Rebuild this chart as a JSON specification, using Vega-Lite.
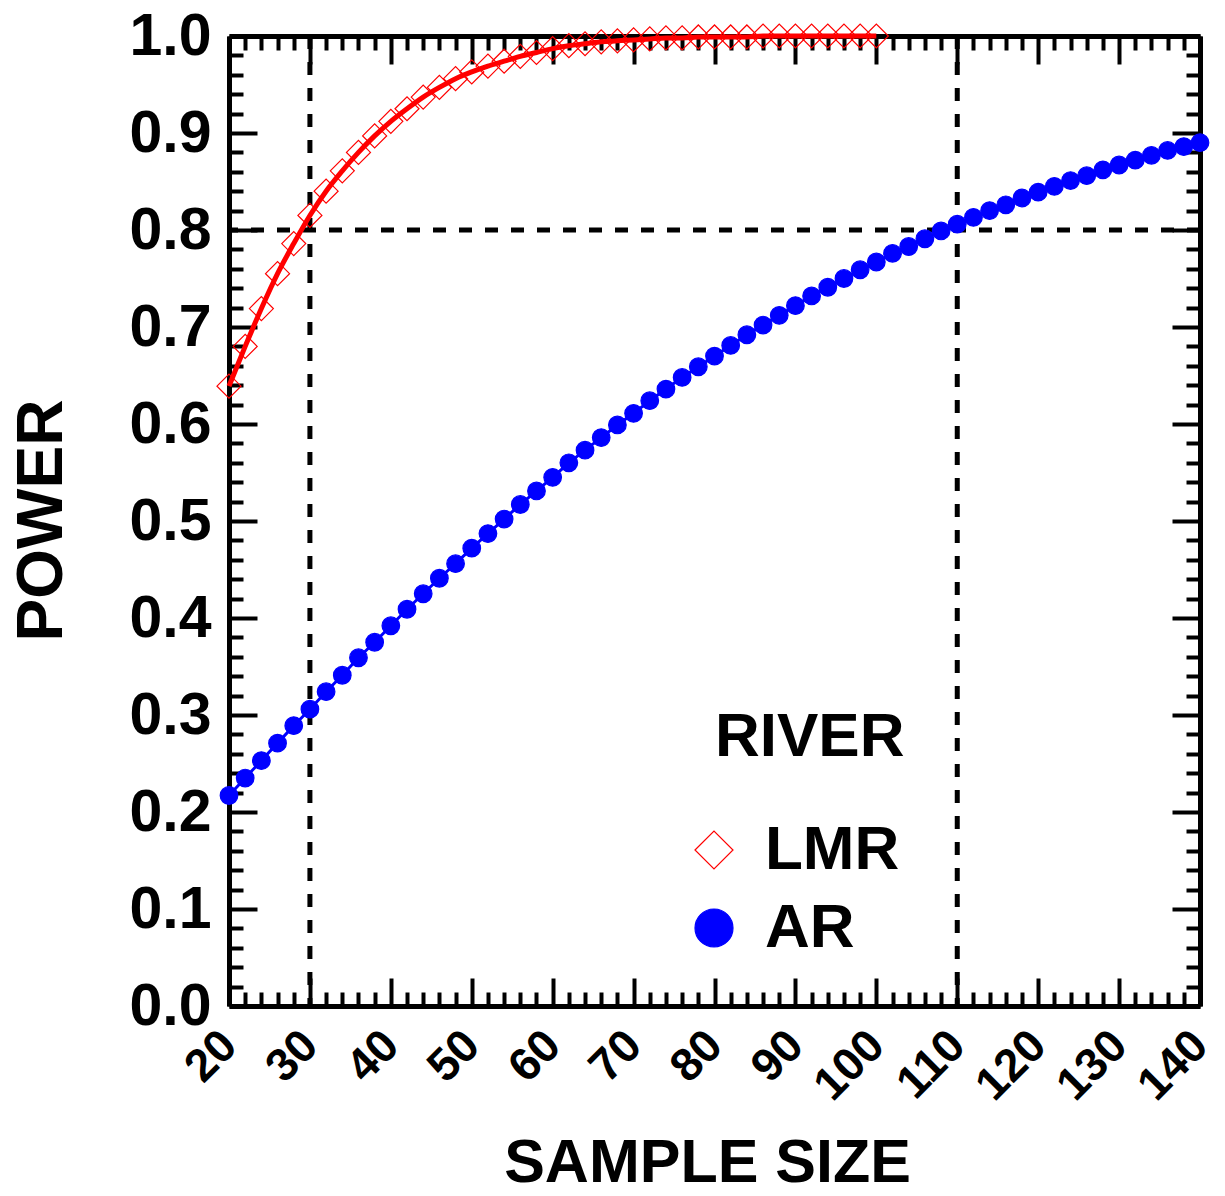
{
  "$schema": "https://vega.github.io/schema/vega-lite/v6.json",
  "autosize": {"type": "none"},
  "padding": {"left": 229, "top": 36, "right": 25, "bottom": 190},
  "width": 971,
  "height": 970,
  "background": "white",
  "config": {
    "view": {"stroke": null},
    "font": "Liberation Sans",
    "axis": {"labelFont": "Liberation Sans", "titleFont": "Liberation Sans", "labelFontWeight": "bold", "titleFontWeight": "bold", "labelColor": "black", "titleColor": "black", "domainColor": "black", "tickColor": "black", "grid": false, "labelFlush": false, "labelOverlap": false}
  },
  "datasets": {
    "power": [
      {"river": "LMR", "n": 20, "power": 0.639}, {"river": "LMR", "n": 22, "power": 0.680}, {"river": "LMR", "n": 24, "power": 0.719},
      {"river": "LMR", "n": 26, "power": 0.755}, {"river": "LMR", "n": 28, "power": 0.786}, {"river": "LMR", "n": 30, "power": 0.815},
      {"river": "LMR", "n": 32, "power": 0.840}, {"river": "LMR", "n": 34, "power": 0.861}, {"river": "LMR", "n": 36, "power": 0.880},
      {"river": "LMR", "n": 38, "power": 0.897}, {"river": "LMR", "n": 40, "power": 0.912}, {"river": "LMR", "n": 42, "power": 0.925},
      {"river": "LMR", "n": 44, "power": 0.937}, {"river": "LMR", "n": 46, "power": 0.947}, {"river": "LMR", "n": 48, "power": 0.956},
      {"river": "LMR", "n": 50, "power": 0.963}, {"river": "LMR", "n": 52, "power": 0.969}, {"river": "LMR", "n": 54, "power": 0.974},
      {"river": "LMR", "n": 56, "power": 0.979}, {"river": "LMR", "n": 58, "power": 0.983}, {"river": "LMR", "n": 60, "power": 0.987},
      {"river": "LMR", "n": 62, "power": 0.990}, {"river": "LMR", "n": 64, "power": 0.992}, {"river": "LMR", "n": 66, "power": 0.994},
      {"river": "LMR", "n": 68, "power": 0.995}, {"river": "LMR", "n": 70, "power": 0.996}, {"river": "LMR", "n": 72, "power": 0.997},
      {"river": "LMR", "n": 74, "power": 0.998}, {"river": "LMR", "n": 76, "power": 0.998}, {"river": "LMR", "n": 78, "power": 0.999},
      {"river": "LMR", "n": 80, "power": 0.999}, {"river": "LMR", "n": 82, "power": 0.999}, {"river": "LMR", "n": 84, "power": 0.999},
      {"river": "LMR", "n": 86, "power": 1.0}, {"river": "LMR", "n": 88, "power": 1.0}, {"river": "LMR", "n": 90, "power": 1.0},
      {"river": "LMR", "n": 92, "power": 1.0}, {"river": "LMR", "n": 94, "power": 1.0}, {"river": "LMR", "n": 96, "power": 1.0},
      {"river": "LMR", "n": 98, "power": 1.0}, {"river": "LMR", "n": 100, "power": 1.0},
      {"river": "AR", "n": 20, "power": 0.217}, {"river": "AR", "n": 22, "power": 0.235}, {"river": "AR", "n": 24, "power": 0.253},
      {"river": "AR", "n": 26, "power": 0.271}, {"river": "AR", "n": 28, "power": 0.289}, {"river": "AR", "n": 30, "power": 0.306},
      {"river": "AR", "n": 32, "power": 0.324}, {"river": "AR", "n": 34, "power": 0.341}, {"river": "AR", "n": 36, "power": 0.359},
      {"river": "AR", "n": 38, "power": 0.375}, {"river": "AR", "n": 40, "power": 0.392}, {"river": "AR", "n": 42, "power": 0.409},
      {"river": "AR", "n": 44, "power": 0.425}, {"river": "AR", "n": 46, "power": 0.441}, {"river": "AR", "n": 48, "power": 0.456},
      {"river": "AR", "n": 50, "power": 0.472}, {"river": "AR", "n": 52, "power": 0.487}, {"river": "AR", "n": 54, "power": 0.502},
      {"river": "AR", "n": 56, "power": 0.517}, {"river": "AR", "n": 58, "power": 0.531}, {"river": "AR", "n": 60, "power": 0.545},
      {"river": "AR", "n": 62, "power": 0.560}, {"river": "AR", "n": 64, "power": 0.573}, {"river": "AR", "n": 66, "power": 0.586},
      {"river": "AR", "n": 68, "power": 0.599}, {"river": "AR", "n": 70, "power": 0.611}, {"river": "AR", "n": 72, "power": 0.624},
      {"river": "AR", "n": 74, "power": 0.636}, {"river": "AR", "n": 76, "power": 0.648}, {"river": "AR", "n": 78, "power": 0.659},
      {"river": "AR", "n": 80, "power": 0.670}, {"river": "AR", "n": 82, "power": 0.681}, {"river": "AR", "n": 84, "power": 0.692},
      {"river": "AR", "n": 86, "power": 0.702}, {"river": "AR", "n": 88, "power": 0.712}, {"river": "AR", "n": 90, "power": 0.722},
      {"river": "AR", "n": 92, "power": 0.732}, {"river": "AR", "n": 94, "power": 0.741}, {"river": "AR", "n": 96, "power": 0.750},
      {"river": "AR", "n": 98, "power": 0.759}, {"river": "AR", "n": 100, "power": 0.767}, {"river": "AR", "n": 102, "power": 0.776},
      {"river": "AR", "n": 104, "power": 0.783}, {"river": "AR", "n": 106, "power": 0.791}, {"river": "AR", "n": 108, "power": 0.799},
      {"river": "AR", "n": 110, "power": 0.806}, {"river": "AR", "n": 112, "power": 0.813}, {"river": "AR", "n": 114, "power": 0.820},
      {"river": "AR", "n": 116, "power": 0.826}, {"river": "AR", "n": 118, "power": 0.833}, {"river": "AR", "n": 120, "power": 0.839},
      {"river": "AR", "n": 122, "power": 0.845}, {"river": "AR", "n": 124, "power": 0.851}, {"river": "AR", "n": 126, "power": 0.856},
      {"river": "AR", "n": 128, "power": 0.862}, {"river": "AR", "n": 130, "power": 0.867}, {"river": "AR", "n": 132, "power": 0.872},
      {"river": "AR", "n": 134, "power": 0.877}, {"river": "AR", "n": 136, "power": 0.882}, {"river": "AR", "n": 138, "power": 0.886},
      {"river": "AR", "n": 140, "power": 0.890}
    ],
    "vlines": [{"n": 30}, {"n": 110}],
    "hlines": [{"power": 0.8}]
  },
  "resolve": {"axis": {"x": "independent", "y": "independent"}},
  "layer": [
    {
      "data": {"name": "vlines"},
      "mark": {"type": "rule", "color": "black", "strokeWidth": 5, "strokeDash": [13, 13]},
      "encoding": {
        "x": {"field": "n", "type": "quantitative", "scale": {"domain": [20, 140], "nice": false, "zero": false},
          "axis": {"orient": "bottom", "values": [20, 30, 40, 50, 60, 70, 80, 90, 100, 110, 120, 130, 140], "ticks": false, "domain": false,
            "labelAngle": -45, "labelAlign": "right", "labelBaseline": "middle", "labelPadding": 32, "labelFontSize": 46,
            "title": "SAMPLE SIZE", "titleFontSize": 61, "titleX": 478, "titleAlign": "center", "titleY": 175, "titleBaseline": "alphabetic"}}
      }
    },
    {
      "data": {"name": "hlines"},
      "mark": {"type": "rule", "color": "black", "strokeWidth": 5, "strokeDash": [13, 13]},
      "encoding": {
        "y": {"field": "power", "type": "quantitative", "scale": {"domain": [0, 1], "nice": false, "zero": false},
          "axis": {"orient": "left", "values": [0, 0.1, 0.2, 0.3, 0.4, 0.5, 0.6, 0.7, 0.8, 0.9, 1.0], "format": ".1f", "ticks": false, "domain": false,
            "labelPadding": 18, "labelFontSize": 59, "labelBaseline": "middle",
            "title": "POWER", "titleFontSize": 64, "titleX": -168, "titleY": 484, "titleAngle": -90, "titleBaseline": "alphabetic", "titleAlign": "center"}}
      }
    },
    {
      "data": {"name": "power"},
      "transform": [{"filter": "datum.river === 'AR'"}],
      "mark": {"type": "line", "color": "#0000ff", "strokeWidth": 3},
      "encoding": {
        "x": {"field": "n", "type": "quantitative", "scale": {"domain": [20, 140], "nice": false, "zero": false},
          "axis": {"orient": "bottom", "labels": false, "title": null, "domain": true, "domainWidth": 5, "tickWidth": 4,
            "values": [20,22,24,26,28,30,32,34,36,38,40,42,44,46,48,50,52,54,56,58,60,62,64,66,68,70,72,74,76,78,80,82,84,86,88,90,92,94,96,98,100,102,104,106,108,110,112,114,116,118,120,122,124,126,128,130,132,134,136,138,140],
            "tickSize": {"condition": {"test": "datum.value % 10 === 0", "value": -28}, "value": -14}}},
        "y": {"field": "power", "type": "quantitative", "scale": {"domain": [0, 1], "nice": false, "zero": false},
          "axis": {"orient": "left", "labels": false, "title": null, "domain": true, "domainWidth": 5, "tickWidth": 4,
            "values": [0,0.02,0.04,0.06,0.08,0.1,0.12,0.14,0.16,0.18,0.2,0.22,0.24,0.26,0.28,0.3,0.32,0.34,0.36,0.38,0.4,0.42,0.44,0.46,0.48,0.5,0.52,0.54,0.56,0.58,0.6,0.62,0.64,0.66,0.68,0.7,0.72,0.74,0.76,0.78,0.8,0.82,0.84,0.86,0.88,0.9,0.92,0.94,0.96,0.98,1.0],
            "tickSize": {"condition": {"test": "abs(datum.value * 10 - round(datum.value * 10)) < 0.001", "value": -28}, "value": -14}}}
      }
    },
    {
      "data": {"name": "power"},
      "mark": {"type": "point", "filled": true, "opacity": 1, "strokeWidth": 1.2},
      "encoding": {
        "x": {"field": "n", "type": "quantitative", "scale": {"domain": [20, 140], "nice": false, "zero": false},
          "axis": {"orient": "top", "labels": false, "title": null, "domain": true, "domainWidth": 5, "tickWidth": 4,
            "values": [20,22,24,26,28,30,32,34,36,38,40,42,44,46,48,50,52,54,56,58,60,62,64,66,68,70,72,74,76,78,80,82,84,86,88,90,92,94,96,98,100,102,104,106,108,110,112,114,116,118,120,122,124,126,128,130,132,134,136,138,140],
            "tickSize": {"condition": {"test": "datum.value % 10 === 0", "value": -28}, "value": -14}}},
        "y": {"field": "power", "type": "quantitative", "scale": {"domain": [0, 1], "nice": false, "zero": false},
          "axis": {"orient": "right", "labels": false, "title": null, "domain": true, "domainWidth": 5, "tickWidth": 4,
            "values": [0,0.02,0.04,0.06,0.08,0.1,0.12,0.14,0.16,0.18,0.2,0.22,0.24,0.26,0.28,0.3,0.32,0.34,0.36,0.38,0.4,0.42,0.44,0.46,0.48,0.5,0.52,0.54,0.56,0.58,0.6,0.62,0.64,0.66,0.68,0.7,0.72,0.74,0.76,0.78,0.8,0.82,0.84,0.86,0.88,0.9,0.92,0.94,0.96,0.98,1.0],
            "tickSize": {"condition": {"test": "abs(datum.value * 10 - round(datum.value * 10)) < 0.001", "value": -28}, "value": -14}}},
        "shape": {"field": "river", "type": "nominal", "scale": {"domain": ["LMR", "AR"], "range": ["diamond", "circle"]}, "title": "RIVER"},
        "fill": {"field": "river", "type": "nominal", "scale": {"domain": ["LMR", "AR"], "range": ["transparent", "#0000ff"]}, "title": "RIVER"},
        "stroke": {"field": "river", "type": "nominal", "scale": {"domain": ["LMR", "AR"], "range": ["#ff0000", "#0000ff"]}, "title": "RIVER",
          "legend": {"orient": "none", "legendX": 486, "legendY": 671, "padding": 0,
            "titleFontSize": 62, "titleFont": "Liberation Sans", "titleFontWeight": "bold", "titleColor": "black", "titlePadding": 50, "titleLimit": 500,
            "labelFontSize": 62, "labelFont": "Liberation Sans", "labelFontWeight": "bold", "labelColor": "black", "labelOffset": 20, "labelLimit": 400,
            "symbolSize": 1444, "symbolStrokeWidth": 1.2, "rowPadding": 16, "symbolOffset": -32,
            "encode": {"symbols": {"update": {"size": {"signal": "datum.value === 'LMR' ? 1444 : 900"}}}}}},
        "size": {"condition": {"test": "datum.river === 'LMR'", "value": 576}, "value": 310}
      }
    },
    {
      "data": {"name": "power"},
      "transform": [{"filter": "datum.river === 'LMR'"}],
      "mark": {"type": "line", "color": "#ff0000", "strokeWidth": 5, "interpolate": "monotone"},
      "encoding": {
        "x": {"field": "n", "type": "quantitative", "scale": {"domain": [20, 140], "nice": false, "zero": false}, "axis": null},
        "y": {"field": "power", "type": "quantitative", "scale": {"domain": [0, 1], "nice": false, "zero": false}, "axis": null}
      }
    }
  ]
}
